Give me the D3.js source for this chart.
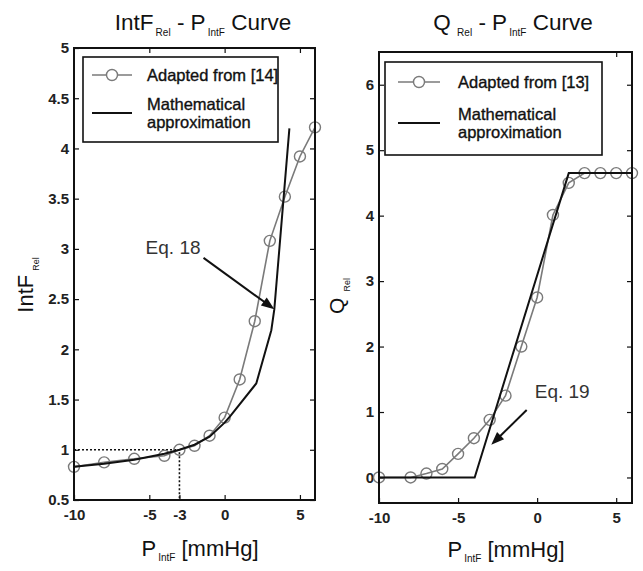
<!DOCTYPE html>
<html lang="en">
<head>
<meta charset="UTF-8">
<title>IntF and Q curves</title>
<script src="https://d3js.org/d3.v7.min.js"></script>
<style>
  body { margin: 0; background: #fff; }
  svg text { font-family: "Liberation Sans", Arial, sans-serif; fill: #111; }
  .tick line { stroke: #111; stroke-width: 1.2; }
  .tick text { font-size: 15px; font-weight: bold; fill: #222; }
  .domain { display: none; }
  .leg { stroke: #111; stroke-width: 0.35px; }
</style>
</head>
<body>
<div id="chart"></div>
<script>
// left panel: IntF_Rel vs P_IntF
var intfP      = [-10, -8, -6, -4, -3, -2, -1, 0, 1, 2, 3, 4, 5, 6];
var intfRel    = [0.83, 0.875, 0.91, 0.94, 1.0, 1.04, 1.14, 1.32, 1.7, 2.28, 3.08, 3.52, 3.92, 4.21];
var intfApproxP = [-10, -8, -6, -4, -3, -2, -1, 0, 0.4, 2.1, 3.1, 3.3, 4.3];
var intfApprox  = [0.83, 0.86, 0.9, 0.96, 1.0, 1.05, 1.13, 1.27, 1.34, 1.66, 2.19, 2.4, 4.2];
var intfXTicks = [-10, -5, -3, 0, 5];
var intfYTicks = [0.5, 1, 1.5, 2, 2.5, 3, 3.5, 4, 4.5, 5];

// right panel: Q_Rel vs P_IntF
var qP      = [-10, -8, -7, -6, -5, -4, -3, -2, -1, 0, 1, 2, 3, 4, 5, 6];
var qRel    = [0, 0, 0.06, 0.13, 0.36, 0.6, 0.88, 1.25, 2.0, 2.75, 4.01, 4.5, 4.65, 4.65, 4.65, 4.65];
var qApproxP = [-10, -3.95, 2.0, 6];
var qApprox  = [0, 0, 4.65, 4.65];
var qXTicks = [-10, -5, 0, 5];
var qYTicks = [0, 1, 2, 3, 4, 5, 6];

var svg = d3.select("#chart").append("svg")
    .attr("width", 643)
    .attr("height", 571);

var gray = "#7a7a7a";

function panel(opt) {
  var x = d3.scaleLinear().domain([-10, 6]).range([opt.left, opt.right]);
  var y = d3.scaleLinear().domain(opt.ydom).range([opt.bottom, opt.top]);
  var g = svg.append("g");
  var fmt = function(d) { return String(d); };

  g.append("g").attr("transform", "translate(0," + opt.bottom + ")")
    .call(d3.axisBottom(x).tickValues(opt.xticks).tickSizeInner(-5).tickSizeOuter(0).tickPadding(9).tickFormat(fmt));
  g.append("g").attr("transform", "translate(0," + opt.top + ")")
    .call(d3.axisTop(x).tickValues(opt.topticks).tickSizeInner(-5).tickSizeOuter(0).tickFormat(""));
  g.append("g").attr("transform", "translate(" + opt.left + ",0)")
    .call(d3.axisLeft(y).tickValues(opt.yticks).tickSizeInner(-5).tickSizeOuter(0).tickPadding(5).tickFormat(fmt));
  g.append("g").attr("transform", "translate(" + opt.right + ",0)")
    .call(d3.axisRight(y).tickValues(opt.yticks).tickSizeInner(-5).tickSizeOuter(0).tickFormat(""));

  var dg = g.append("g");

  if (opt.extra) opt.extra(dg, x, y);

  var line = d3.line().x(function(d) { return x(d[0]); }).y(function(d) { return y(d[1]); });
  var pts = d3.zip(opt.px, opt.py);
  var apts = d3.zip(opt.ax, opt.ay);

  dg.append("path").datum(pts).attr("d", line)
    .attr("fill", "none").attr("stroke", gray).attr("stroke-width", 1.6);
  dg.selectAll("circle.pt").data(pts).enter().append("circle")
    .attr("class", "pt")
    .attr("cx", function(d) { return x(d[0]); })
    .attr("cy", function(d) { return y(d[1]); })
    .attr("r", 5.5)
    .attr("fill", "none").attr("stroke", gray).attr("stroke-width", 1.4);
  dg.append("path").datum(apts).attr("d", line)
    .attr("fill", "none").attr("stroke", "#111").attr("stroke-width", 2);

  // frame
  g.append("rect")
    .attr("x", opt.left).attr("y", opt.top)
    .attr("width", opt.right - opt.left).attr("height", opt.bottom - opt.top)
    .attr("fill", "none").attr("stroke", "#111").attr("stroke-width", 2);

  // legend
  var L = opt.legend;
  var lg = g.append("g");
  lg.append("rect").attr("x", L.x0).attr("y", L.y0)
    .attr("width", L.x1 - L.x0).attr("height", L.y1 - L.y0)
    .attr("fill", "#fff").attr("stroke", "#111").attr("stroke-width", 1.6);
  lg.append("line").attr("x1", L.sx0).attr("x2", L.sx1).attr("y1", L.r1).attr("y2", L.r1)
    .attr("stroke", gray).attr("stroke-width", 1.6);
  lg.append("circle").attr("cx", (L.sx0 + L.sx1) / 2).attr("cy", L.r1).attr("r", 5.5)
    .attr("fill", "#fff").attr("stroke", gray).attr("stroke-width", 1.4);
  lg.append("line").attr("x1", L.sx0).attr("x2", L.sx1).attr("y1", L.r2).attr("y2", L.r2)
    .attr("stroke", "#111").attr("stroke-width", 2.2);
  lg.append("text").attr("class", "leg").attr("x", L.tx).attr("y", L.r1 + 6).attr("font-size", 16.5).text(L.label1);
  lg.append("text").attr("class", "leg").attr("x", L.tx).attr("y", L.r2 - 3).attr("font-size", 16.5).text("Mathematical");
  lg.append("text").attr("class", "leg").attr("x", L.tx).attr("y", L.r2 + 15).attr("font-size", 16.5).text("approximation");

  // annotation arrow
  var A = opt.arrow;
  var x1 = x(A.from[0]), y1 = y(A.from[1]), x2 = x(A.to[0]), y2 = y(A.to[1]);
  var ang = Math.atan2(y2 - y1, x2 - x1);
  var hl = 13, hw = 5;
  g.append("line").attr("x1", x1).attr("y1", y1)
    .attr("x2", x2 - Math.cos(ang) * hl * 0.8).attr("y2", y2 - Math.sin(ang) * hl * 0.8)
    .attr("stroke", "#111").attr("stroke-width", 2);
  var bx = x2 - Math.cos(ang) * hl, by = y2 - Math.sin(ang) * hl;
  g.append("path")
    .attr("d", "M" + x2 + "," + y2 +
      "L" + (bx + Math.sin(ang) * hw) + "," + (by - Math.cos(ang) * hw) +
      "L" + (bx - Math.sin(ang) * hw) + "," + (by + Math.cos(ang) * hw) + "Z")
    .attr("fill", "#111");
  g.append("text").attr("x", x(A.text[0])).attr("y", y(A.text[1]))
    .attr("text-anchor", A.anchor).attr("font-size", 19).style("fill", "#333").text(A.label);

  return { x: x, y: y };
}

// left panel
panel({
  left: 74, right: 315, top: 48, bottom: 500,
  ydom: [0.5, 5],
  xticks: intfXTicks, topticks: [-5, 0, 5], yticks: intfYTicks,
  px: intfP, py: intfRel, ax: intfApproxP, ay: intfApprox,
  extra: function(g, x, y) {
    g.append("path")
      .attr("d", "M" + x(-10) + "," + y(1) + "H" + x(-3) + "V" + y(0.5))
      .attr("fill", "none").attr("stroke", "#111").attr("stroke-width", 1.6)
      .attr("stroke-dasharray", "2,2");
  },
  legend: { x0: 83, x1: 278, y0: 57, y1: 142, sx0: 92, sx1: 132, tx: 147, r1: 75, r2: 113,
            label1: "Adapted from [14]" },
  arrow: { from: [-1.4, 2.91], to: [3.3, 2.4], text: [-1.6, 2.95], anchor: "end", label: "Eq. 18" }
});

// right panel
panel({
  left: 379, right: 632, top: 52, bottom: 503,
  ydom: [-0.39, 6.5],
  xticks: qXTicks, topticks: [5], yticks: qYTicks,
  px: qP, py: qRel, ax: qApproxP, ay: qApprox,
  legend: { x0: 385, x1: 602, y0: 62, y1: 155, sx0: 398, sx1: 440, tx: 458, r1: 82, r2: 123,
            label1: "Adapted from [13]" },
  arrow: { from: [-0.66, 1.03], to: [-2.9, 0.5], text: [-0.15, 1.22], anchor: "start", label: "Eq. 19" }
});

// titles
var t1 = svg.append("text").attr("x", 203).attr("y", 30).attr("text-anchor", "middle").attr("font-size", 22.5);
t1.append("tspan").text("IntF");
t1.append("tspan").text("Rel").attr("font-size", 10).attr("dy", 6).attr("dx", 2);
t1.append("tspan").text(" - P").attr("dy", -6);
t1.append("tspan").text("IntF").attr("font-size", 10).attr("dy", 6).attr("dx", 2);
t1.append("tspan").text(" Curve").attr("dy", -6);

var t2 = svg.append("text").attr("x", 513).attr("y", 30).attr("text-anchor", "middle").attr("font-size", 22.5);
t2.append("tspan").text("Q ");
t2.append("tspan").text("Rel").attr("font-size", 10).attr("dy", 6);
t2.append("tspan").text(" - P").attr("dy", -6);
t2.append("tspan").text("IntF").attr("font-size", 10).attr("dy", 6).attr("dx", 2);
t2.append("tspan").text(" Curve").attr("dy", -6);

// x labels
[[200, 556], [506, 557]].forEach(function(p) {
  var t = svg.append("text").attr("x", p[0]).attr("y", p[1]).attr("text-anchor", "middle").attr("font-size", 22);
  t.append("tspan").text("P");
  t.append("tspan").text("IntF").attr("font-size", 10).attr("dy", 5).attr("dx", 2);
  t.append("tspan").text(" [mmHg]").attr("dy", -5);
});

// y labels
var yl1 = svg.append("text").attr("transform", "translate(33,285) rotate(-90)")
  .attr("text-anchor", "middle").attr("font-size", 22);
yl1.append("tspan").text("IntF");
yl1.append("tspan").text("Rel").attr("font-size", 9).attr("dy", 6).attr("dx", 4);

var yl2 = svg.append("text").attr("transform", "translate(344,296) rotate(-90)")
  .attr("text-anchor", "middle").attr("font-size", 21);
yl2.append("tspan").text("Q");
yl2.append("tspan").text("Rel").attr("font-size", 9).attr("dy", 6).attr("dx", 6);
</script>
</body>
</html>
